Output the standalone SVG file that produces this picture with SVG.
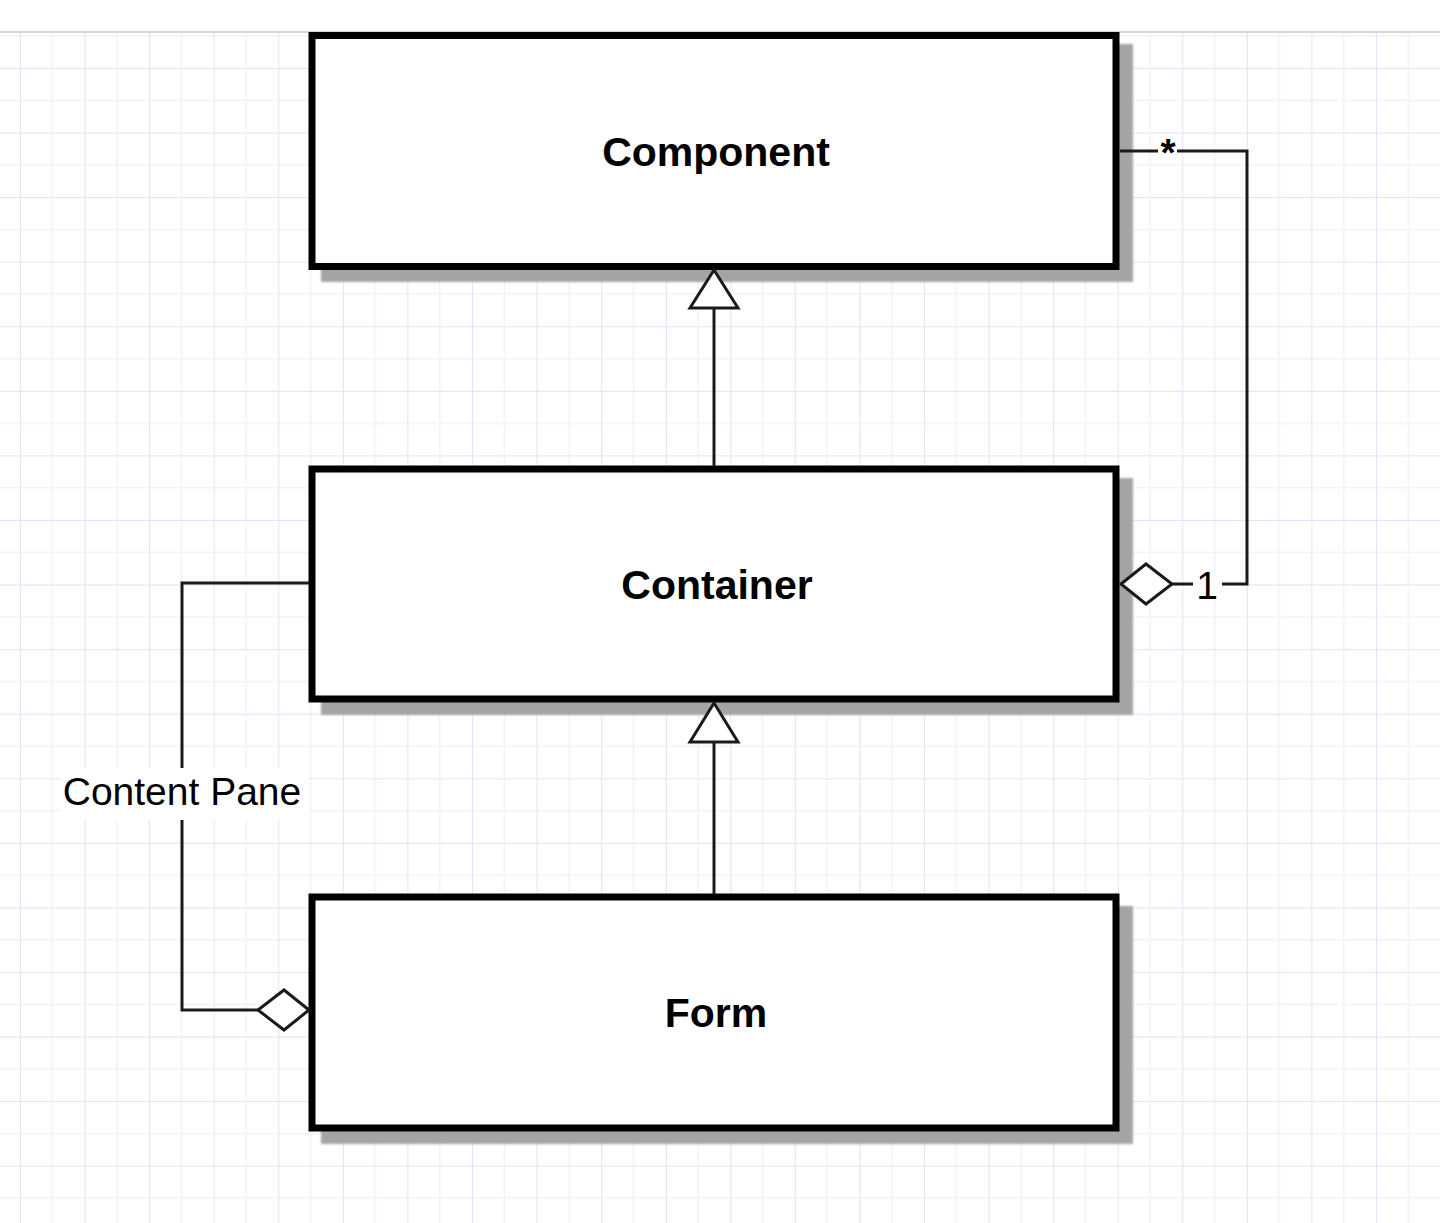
<svg xmlns="http://www.w3.org/2000/svg" width="1440" height="1223" viewBox="0 0 1440 1223">
  <style>
    .box { fill: #ffffff; stroke: #000000; stroke-width: 7; }
    .shadow { fill: #a4a4a4; }
    .title { font-family: "Liberation Sans", Arial, sans-serif; font-weight: bold; font-size: 41px; fill: #000000; text-anchor: middle; }
    .label { font-family: "Liberation Sans", Arial, sans-serif; font-size: 39px; fill: #000000; text-anchor: middle; }
    .star { font-weight: bold; }
    .edge { fill: none; stroke: #1a1a1a; stroke-width: 3; }
    .head { fill: #ffffff; stroke: #1a1a1a; stroke-width: 3; stroke-linejoin: miter; }
    .bg { fill: #ffffff; }
  </style>
  <defs>
    <pattern id="grid" patternUnits="userSpaceOnUse" x="20" y="68" width="64.57" height="64.57">
      <rect x="31.6" y="0" width="1.5" height="64.57" fill="#f1f1f8"/>
      <rect x="0" y="31.6" width="64.57" height="1.5" fill="#f1f1f8"/>
      <rect x="-0.9" y="0" width="1.9" height="64.57" fill="#e2e2fa"/>
      <rect x="0" y="-0.9" width="64.57" height="1.9" fill="#e2e2fa"/>
    </pattern>
    <filter id="soft" x="-5%" y="-5%" width="110%" height="110%">
      <feGaussianBlur stdDeviation="0.8"/>
    </filter>
  </defs>

  <!-- background -->
  <rect x="0" y="0" width="1440" height="1223" fill="#ffffff"/>
  <rect x="0" y="32" width="1440" height="1191" fill="url(#grid)"/>
  <rect x="0" y="31" width="1440" height="2" fill="#d6d6d6"/>

  <!-- nodes -->
  <g id="component">
    <rect class="shadow" x="321" y="44" width="812" height="238" filter="url(#soft)"/>
    <rect class="box" x="312" y="35.5" width="804" height="231"/>
    <text class="title" x="716" y="166">Component</text>
  </g>
  <g id="container">
    <rect class="shadow" x="321" y="478" width="812" height="237" filter="url(#soft)"/>
    <rect class="box" x="312" y="469" width="804" height="230"/>
    <text class="title" x="717" y="599">Container</text>
  </g>
  <g id="form">
    <rect class="shadow" x="321" y="906" width="812" height="238" filter="url(#soft)"/>
    <rect class="box" x="312" y="897" width="804" height="231"/>
    <text class="title" x="716" y="1027">Form</text>
  </g>

  <!-- connectors -->
  <g id="connectors">
    <!-- Container generalizes to Component -->
    <line class="edge" x1="714" y1="466" x2="714" y2="308"/>
    <polygon class="head" points="714,270 690,308 738,308"/>
    <!-- Form generalizes to Container -->
    <line class="edge" x1="714" y1="895" x2="714" y2="742"/>
    <polygon class="head" points="714,703 690,742 738,742"/>
    <!-- Component many to one Container aggregation -->
    <path class="edge" d="M1120,151 H1247 V584 H1172"/>
    <polygon class="head" points="1121,584 1146,564 1172,584 1146,604"/>
    <rect class="bg" x="1158" y="140" width="19" height="20"/>
    <text class="label star" x="1168" y="166">*</text>
    <rect class="bg" x="1193" y="570" width="29" height="30"/>
    <text class="label" x="1207" y="599">1</text>
    <!-- Content Pane aggregation -->
    <path class="edge" d="M309,583 H182 V1010 H258"/>
    <polygon class="head" points="309,1010 284,990 258,1010 284,1030"/>
    <rect class="bg" x="60" y="768" width="248" height="52"/>
    <text class="label" x="182" y="805">Content Pane</text>
  </g>
</svg>
